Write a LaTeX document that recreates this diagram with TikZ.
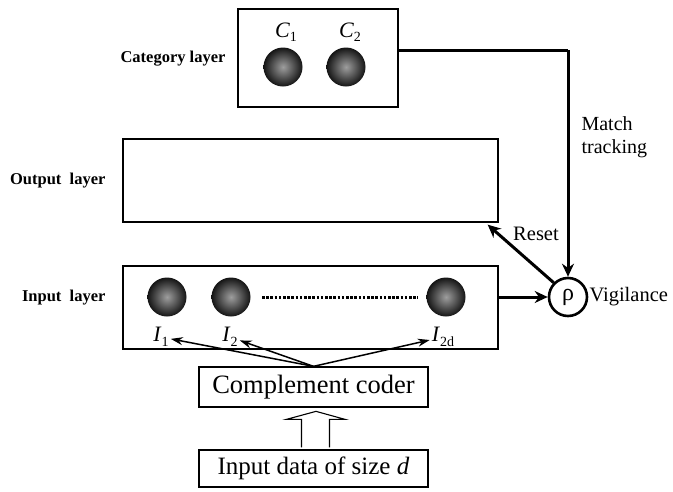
\documentclass[tikz,border=0pt]{standalone}
\usepackage{fontspec}
\setmainfont{Liberation Serif}
\usetikzlibrary{arrows.meta,calc}
% italic symbol with an upright, lowered index
\newcommand\symidx[2]{\textit{#1}\raisebox{-0.45ex}{\fontsize{14}{14}\selectfont #2}}
\begin{document}
\begin{tikzpicture}[x=1pt,y=-1pt,
  layerbox/.style={draw,line width=1.3pt,inner sep=0pt},
  neuron/.style={circle,minimum size=39pt,inner sep=0pt,shading=radial,
    inner color=black!38,outer color=black!92},
  layertag/.style={anchor=east,font=\bfseries\fontsize{16.5}{18}\selectfont},
  symlabel/.style={font=\fontsize{22}{24}\selectfont,inner sep=2pt},
  plaintext/.style={font=\fontsize{20.5}{23}\selectfont},
  thinarrow/.style={line width=1.5pt,-{Stealth[length=12pt,width=8pt]}},
  thickarrow/.style={line width=3pt,-{Stealth[length=13pt,width=12pt]}}]
\useasboundingbox (0,0) rectangle (673,491);

% layers
\node[layerbox,minimum width=160pt,minimum height=98pt] (cat) at (318,58) {};
\node[layerbox,minimum width=375pt,minimum height=83pt] (out) at (310.5,180.5) {};
\node[layerbox,minimum width=375pt,minimum height=83pt] (inp) at (310.5,307.5) {};
\node[layerbox,minimum width=229pt,minimum height=40pt,
      font=\fontsize{26.5}{30}\selectfont] (coder) at (313.5,387) {Complement coder};
\node[layerbox,minimum width=229pt,minimum height=37pt,
      font=\fontsize{25}{28}\selectfont] (data) at (313.5,468.5) {Input data of size \textit{d}};

% layer names
\node[layertag] (tcat) at (229,59) {Category layer};
\node[layertag] (tout) at (109,181) {Output\ \ layer};
\node[layertag] (tinp) at (109,298) {Input\ \ layer};

% category neurons
\node[neuron] (c1) at (283,67) {};
\node[neuron] (c2) at (346,67) {};
\node[symlabel] (lc1) at (286,32) {\symidx{C}{1}};
\node[symlabel] (lc2) at (350,32) {\symidx{C}{2}};

% input neurons
\node[neuron] (i1) at (167,297) {};
\node[neuron] (i2) at (231,297) {};
\node[neuron] (i2d) at (446,297) {};
\draw[line width=3pt,dash pattern=on 2.6pt off 1.6pt] (262,297) coordinate (dotl) -- (418,297) coordinate (dotr);
\node[symlabel] (li1) at (161,337) {\symidx{I}{1}};
\node[symlabel] (li2) at (230,337) {\symidx{I}{2}};
\node[symlabel] (li2d) at (443,337) {\symidx{I}{2d}};

% complement coder feeding the inputs
\coordinate (fan) at (coder.north);
\draw[thinarrow] (fan) -- (li1);
\draw[thinarrow] (fan) -- (li2);
\draw[thinarrow] (fan) -- (li2d);

% hollow arrow from the data to the coder
\draw[line width=1.1pt,fill=white]
  ($(data.north)+(-12,-2)$) -- ($(data.north)+(-12,-30)$) -- ($(data.north)+(-27,-30)$)
  -- ($(data.north)+(2.5,-38)$) -- ($(data.north)+(31.5,-30)$) -- ($(data.north)+(16,-30)$)
  -- ($(data.north)+(16,-2)$);

% vigilance
\node[circle,draw,line width=2.6pt,minimum size=38pt,inner sep=0pt,
      font=\fontsize{24}{26}\selectfont] (rho) at (568,297) {ρ};
\node[plaintext,anchor=west,inner sep=1pt] (vig) at (rho.east) {Vigilance};

% match tracking
\coordinate (mt) at (rho.north |- 0,50);
\draw[line width=3pt] (cat.east |- mt) -- (mt);
\draw[thickarrow] (mt) -- (rho.north);
\node[plaintext,anchor=west,align=left,font=\fontsize{20}{23}\selectfont] (tmt) at (578,137) {Match\\tracking};

% reset
\draw[thickarrow] (rho.135) -- ($(out.south east)+(-11,2)$) coordinate (rs);
\node[plaintext] (treset) at (536,234) {Reset};

% input layer to vigilance
\draw[thickarrow] (inp.east |- rho.west) -- (rho.west);
\end{tikzpicture}
\end{document}
